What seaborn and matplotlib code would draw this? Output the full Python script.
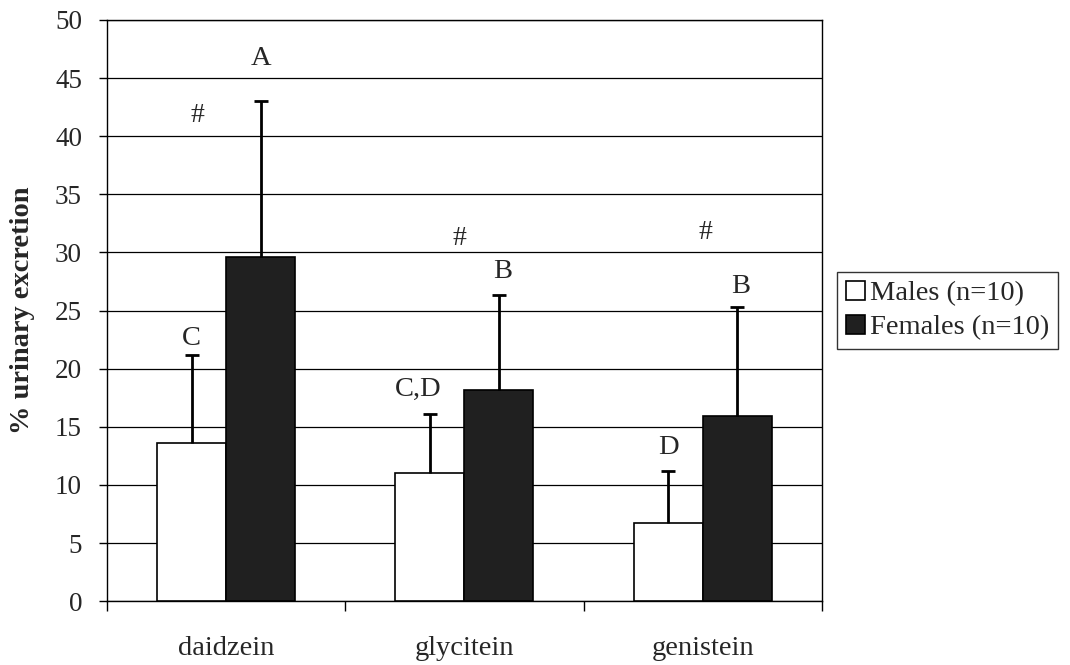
import numpy as np
import pandas as pd
import matplotlib
matplotlib.use("Agg")
import matplotlib.pyplot as plt
import seaborn as sns

categories = ["daidzein", "glycitein", "genistein"]
groups = ["Males (n=10)", "Females (n=10)"]
males_mean = [13.6, 11.0, 6.7]
males_sd = [7.6, 5.1, 4.5]
females_mean = [29.6, 18.2, 15.9]
females_sd = [13.4, 8.1, 9.4]
# significance letters (males, females) and '#' markers
male_letters = ["C", "C,D", "D"]
female_letters = ["A", "B", "B"]
hash_marks = ["#", "#", "#"]
yticks = list(range(0, 51, 5))

# annotation placement (data coordinates)
male_letter_y = [22.6, 18.2, 13.25]
male_letter_dx = [0.0, -0.05, 0.0]
female_letter_y = [46.7, 28.4, 27.1]
female_letter_dx = [0.0, 0.015, 0.015]
hash_x = [-0.12, 0.98, 2.01]
hash_y = [41.8, 31.2, 31.7]

df = pd.DataFrame({
    "compound": categories * 2,
    "group": [groups[0]] * 3 + [groups[1]] * 3,
    "value": males_mean + females_mean,
})

sns.set_theme(style="white")
plt.rcParams["font.family"] = ["Liberation Serif", "DejaVu Serif"]

fig = plt.figure(figsize=(10.7, 6.65), dpi=100)
ax = fig.add_axes([0.1, 0.096, 0.668, 0.874])

palette = {groups[0]: "#ffffff", groups[1]: "#202020"}
sns.barplot(data=df, x="compound", y="value", hue="group", order=categories,
            hue_order=groups, palette=palette, width=0.58, edgecolor="black",
            linewidth=1.2, errorbar=None, ax=ax, zorder=3, saturation=1)

# error bars (upper only)
patches = list(ax.patches)[:6]
sds = males_sd + females_sd
means = males_mean + females_mean
for p, m, s in zip(patches, means, sds):
    xc = p.get_x() + p.get_width() / 2
    _, caps, _ = ax.errorbar(xc, m, yerr=[[0], [s]], fmt="none", ecolor="black",
                             elinewidth=2.0, capsize=5, capthick=2.0, zorder=4)
    caps[0].set_visible(False)

# letters
for i, p in enumerate(patches[:3]):
    xc = p.get_x() + p.get_width() / 2
    ax.text(xc + male_letter_dx[i], male_letter_y[i], male_letters[i],
            ha="center", va="center", fontsize=20.5)
for i, p in enumerate(patches[3:6]):
    xc = p.get_x() + p.get_width() / 2
    ax.text(xc + female_letter_dx[i], female_letter_y[i], female_letters[i],
            ha="center", va="center", fontsize=20.5)
for i in range(3):
    ax.text(hash_x[i], hash_y[i], hash_marks[i], ha="center", va="center",
            fontsize=20)

ax.set_ylim(0, 50)
ax.set_xlim(-0.5, 2.5)
ax.set_yticks(yticks)
ax.set_yticklabels([str(t) for t in yticks], fontsize=19.5)
ax.yaxis.grid(True, color="black", linewidth=0.9)
ax.set_axisbelow(True)

# x ticks at category boundaries, labels at centers
ax.set_xticks([-0.5, 0.5, 1.5, 2.5])
ax.set_xticklabels([])
ax.set_xticks([0, 1, 2], minor=True)
ax.set_xticklabels(categories, minor=True, fontsize=20.5)
ax.tick_params(axis="x", which="major", direction="out", length=7, width=1, color="black", bottom=True)
ax.tick_params(axis="x", which="minor", length=0, pad=25)
ax.tick_params(axis="y", direction="out", length=6, width=1, color="black", left=True, pad=12)

for s in ax.spines.values():
    s.set_visible(True)
    s.set_color("black")
    s.set_linewidth(1.0)

ax.set_xlabel("")
ax.set_ylabel("% urinary excretion", fontsize=20.5, fontweight="bold", labelpad=14)

leg = ax.legend(loc="center left", bbox_to_anchor=(1.022, 0.5), frameon=True,
                fontsize=20.5, fancybox=False, edgecolor="black", handlelength=0.65,
                handleheight=0.65, handletextpad=0.2, borderpad=0.3,
                labelspacing=0.3, borderaxespad=0)
leg.get_frame().set_linewidth(1.0)

fig.savefig("out.png", dpi=100)
